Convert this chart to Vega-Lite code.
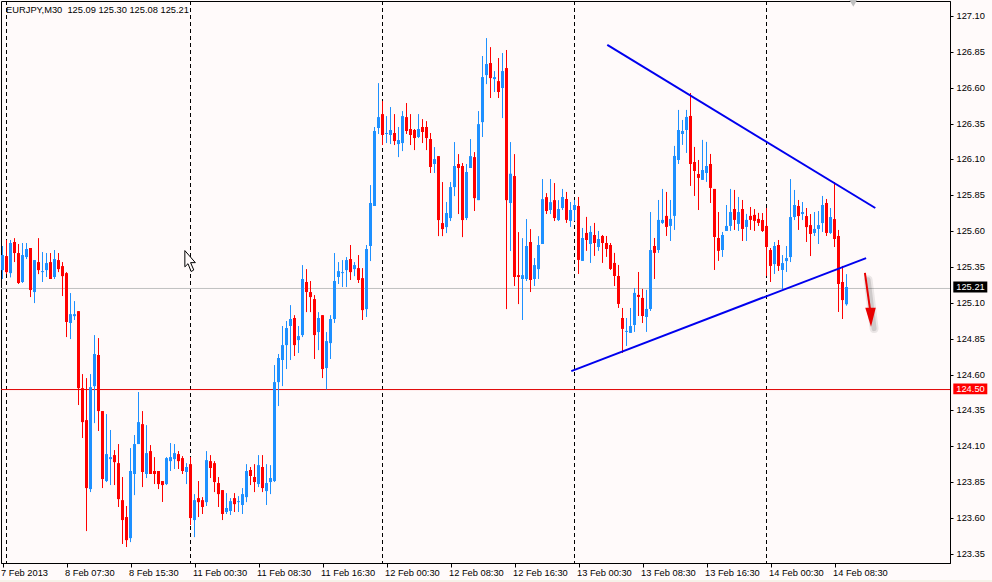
{"$schema":"https://vega.github.io/schema/vega-lite/v6.json","width":949,"height":562,"autosize":"none","padding":{"left":1,"top":1,"right":42,"bottom":19},"background":"#fffafa","view":{"stroke":"#000000","strokeWidth":1,"fill":"#fffafa"},
"config":{"text":{"font":"Liberation Sans"},"axis":{"labelFont":"Liberation Sans","labelFontSize":9.3,"labelColor":"#000000","tickColor":"#000000","domainColor":"#000000","grid":false,"title":null,"labelOverlap":false,"labelBound":false}},
"datasets":{
"candles":[
{"i":0,"o":125.328,"h":125.496,"l":125.266,"c":125.433},{"i":1,"o":125.426,"h":125.538,"l":125.3,"c":125.314},{"i":2,"o":125.307,"h":125.538,"l":125.277,"c":125.517},{"i":3,"o":125.524,"h":125.551,"l":125.384,"c":125.447},{"i":4,"o":125.447,"h":125.51,"l":125.231,"c":125.238},{"i":5,"o":125.245,"h":125.517,"l":125.238,"c":125.433},{"i":6,"o":125.419,"h":125.517,"l":125.405,"c":125.475},{"i":7,"o":125.482,"h":125.482,"l":125.14,"c":125.189},{"i":8,"o":125.175,"h":125.398,"l":125.098,"c":125.398},{"i":9,"o":125.384,"h":125.551,"l":125.3,"c":125.328},
{"i":10,"o":125.314,"h":125.454,"l":125.245,"c":125.321},{"i":11,"o":125.328,"h":125.447,"l":125.28,"c":125.377},{"i":12,"o":125.384,"h":125.447,"l":125.266,"c":125.266},{"i":13,"o":125.28,"h":125.468,"l":125.266,"c":125.405},{"i":14,"o":125.398,"h":125.447,"l":125.314,"c":125.335},{"i":15,"o":125.356,"h":125.384,"l":125.147,"c":125.286},{"i":16,"o":125.307,"h":125.314,"l":124.861,"c":124.966},{"i":17,"o":124.959,"h":125.168,"l":124.847,"c":125.021},{"i":18,"o":125.007,"h":125.112,"l":124.98,"c":125.021},{"i":19,"o":125.042,"h":125.042,"l":124.387,"c":124.505},
{"i":20,"o":124.505,"h":124.603,"l":124.157,"c":124.268},{"i":21,"o":124.282,"h":124.575,"l":123.508,"c":123.808},{"i":22,"o":123.801,"h":124.603,"l":123.78,"c":124.512},{"i":23,"o":124.519,"h":124.875,"l":124.261,"c":124.743},{"i":24,"o":124.736,"h":124.854,"l":124.206,"c":124.345},{"i":25,"o":124.345,"h":124.345,"l":123.808,"c":123.871},{"i":26,"o":123.857,"h":124.324,"l":123.85,"c":124.045},{"i":27,"o":124.01,"h":124.213,"l":123.829,"c":124.024},{"i":28,"o":124.038,"h":124.073,"l":123.829,"c":123.989},{"i":29,"o":123.982,"h":124.115,"l":123.676,"c":123.731},
{"i":30,"o":123.724,"h":123.885,"l":123.418,"c":123.585},{"i":31,"o":123.606,"h":123.683,"l":123.397,"c":123.445},{"i":32,"o":123.459,"h":124.087,"l":123.431,"c":123.927},{"i":33,"o":123.906,"h":124.178,"l":123.759,"c":124.115},{"i":34,"o":124.115,"h":124.478,"l":124.115,"c":124.268},{"i":35,"o":124.254,"h":124.345,"l":123.815,"c":123.92},{"i":36,"o":123.906,"h":124.247,"l":123.878,"c":124.052},{"i":37,"o":124.066,"h":124.108,"l":123.906,"c":123.906},{"i":38,"o":123.927,"h":124.024,"l":123.836,"c":123.906},{"i":39,"o":123.927,"h":123.927,"l":123.801,"c":123.836},
{"i":40,"o":123.857,"h":123.857,"l":123.711,"c":123.829},{"i":41,"o":123.836,"h":124.024,"l":123.829,"c":124.017},{"i":42,"o":123.996,"h":124.122,"l":123.927,"c":124.024},{"i":43,"o":124.01,"h":124.115,"l":123.941,"c":124.052},{"i":44,"o":124.045,"h":124.066,"l":123.941,"c":123.996},{"i":45,"o":124.017,"h":124.031,"l":123.906,"c":123.927},{"i":46,"o":123.92,"h":123.982,"l":123.836,"c":123.955},{"i":47,"o":123.975,"h":124.024,"l":123.55,"c":123.599},{"i":48,"o":123.585,"h":123.766,"l":123.466,"c":123.724},{"i":49,"o":123.738,"h":123.857,"l":123.606,"c":123.71},
{"i":50,"o":123.724,"h":123.745,"l":123.627,"c":123.676},{"i":51,"o":123.71,"h":124.066,"l":123.683,"c":124.003},{"i":52,"o":123.996,"h":124.038,"l":123.878,"c":123.948},{"i":53,"o":123.982,"h":123.996,"l":123.78,"c":123.85},{"i":54,"o":123.843,"h":123.885,"l":123.676,"c":123.766},{"i":55,"o":123.794,"h":123.794,"l":123.585,"c":123.627},{"i":56,"o":123.641,"h":123.773,"l":123.627,"c":123.669},{"i":57,"o":123.648,"h":123.738,"l":123.62,"c":123.717},{"i":58,"o":123.738,"h":123.773,"l":123.641,"c":123.696},{"i":59,"o":123.71,"h":123.752,"l":123.641,"c":123.717},
{"i":60,"o":123.69,"h":123.808,"l":123.627,"c":123.766},{"i":61,"o":123.745,"h":123.975,"l":123.71,"c":123.927},{"i":62,"o":123.934,"h":123.955,"l":123.829,"c":123.892},{"i":63,"o":123.885,"h":123.975,"l":123.78,"c":123.85},{"i":64,"o":123.836,"h":124.038,"l":123.815,"c":123.968},{"i":65,"o":123.955,"h":124.038,"l":123.78,"c":123.808},{"i":66,"o":123.787,"h":123.975,"l":123.69,"c":123.843},{"i":67,"o":123.85,"h":123.968,"l":123.766,"c":123.878},{"i":68,"o":123.857,"h":124.666,"l":123.85,"c":124.547},{"i":69,"o":124.547,"h":124.743,"l":124.38,"c":124.715},
{"i":70,"o":124.701,"h":124.938,"l":124.519,"c":124.805},{"i":71,"o":124.805,"h":124.973,"l":124.638,"c":124.924},{"i":72,"o":124.938,"h":125.084,"l":124.701,"c":124.987},{"i":73,"o":124.994,"h":125.014,"l":124.729,"c":124.805},{"i":74,"o":124.84,"h":124.938,"l":124.75,"c":124.868},{"i":75,"o":124.875,"h":125.363,"l":124.861,"c":125.266},{"i":76,"o":125.245,"h":125.335,"l":125.035,"c":125.175},{"i":77,"o":125.175,"h":125.252,"l":125.035,"c":125.14},{"i":78,"o":125.126,"h":125.154,"l":124.708,"c":124.875},{"i":79,"o":124.896,"h":125.035,"l":124.77,"c":124.994},
{"i":80,"o":125.014,"h":125.014,"l":124.575,"c":124.638},{"i":81,"o":124.645,"h":124.896,"l":124.496,"c":124.833},{"i":82,"o":124.819,"h":125.014,"l":124.708,"c":124.987},{"i":83,"o":124.987,"h":125.447,"l":124.959,"c":125.252},{"i":84,"o":125.28,"h":125.384,"l":125.231,"c":125.321},{"i":85,"o":125.307,"h":125.398,"l":125.21,"c":125.314},{"i":86,"o":125.328,"h":125.419,"l":125.21,"c":125.398},{"i":87,"o":125.405,"h":125.503,"l":125.259,"c":125.314},{"i":88,"o":125.335,"h":125.384,"l":125.286,"c":125.363},{"i":89,"o":125.342,"h":125.433,"l":125.238,"c":125.259},
{"i":90,"o":125.272,"h":125.342,"l":124.98,"c":125.049},{"i":91,"o":125.056,"h":125.503,"l":125.001,"c":125.475},{"i":92,"o":125.496,"h":125.921,"l":125.391,"c":125.796},{"i":93,"o":125.775,"h":126.326,"l":125.775,"c":126.298},{"i":94,"o":126.319,"h":126.632,"l":126.277,"c":126.395},{"i":95,"o":126.416,"h":126.507,"l":126.2,"c":126.27},{"i":96,"o":126.277,"h":126.402,"l":126.214,"c":126.284},{"i":97,"o":126.27,"h":126.465,"l":126.207,"c":126.305},{"i":98,"o":126.284,"h":126.416,"l":126.2,"c":126.228},{"i":99,"o":126.207,"h":126.326,"l":126.116,"c":126.235},
{"i":100,"o":126.214,"h":126.437,"l":126.158,"c":126.402},{"i":101,"o":126.395,"h":126.493,"l":126.277,"c":126.298},{"i":102,"o":126.312,"h":126.416,"l":126.2,"c":126.27},{"i":103,"o":126.305,"h":126.312,"l":126.165,"c":126.249},{"i":104,"o":126.256,"h":126.416,"l":126.249,"c":126.312},{"i":105,"o":126.326,"h":126.381,"l":126.214,"c":126.291},{"i":106,"o":126.326,"h":126.367,"l":126.165,"c":126.249},{"i":107,"o":126.242,"h":126.284,"l":126.005,"c":126.047},{"i":108,"o":126.068,"h":126.186,"l":126.005,"c":126.102},{"i":109,"o":126.123,"h":126.123,"l":125.565,"c":125.677},
{"i":110,"o":125.656,"h":125.942,"l":125.565,"c":125.614},{"i":111,"o":125.628,"h":125.803,"l":125.586,"c":125.726},{"i":112,"o":125.691,"h":125.942,"l":125.67,"c":125.907},{"i":113,"o":125.907,"h":126.221,"l":125.844,"c":126.054},{"i":114,"o":126.068,"h":126.137,"l":125.719,"c":126.04},{"i":115,"o":126.054,"h":126.075,"l":125.558,"c":125.677},{"i":116,"o":125.691,"h":126.068,"l":125.677,"c":126.012},{"i":117,"o":126.04,"h":126.242,"l":126.04,"c":126.123},{"i":118,"o":126.116,"h":126.151,"l":125.74,"c":125.83},{"i":119,"o":125.816,"h":126.437,"l":125.816,"c":126.346},
{"i":120,"o":126.36,"h":126.821,"l":126.256,"c":126.674},{"i":121,"o":126.688,"h":126.946,"l":126.625,"c":126.765},{"i":122,"o":126.772,"h":126.883,"l":126.528,"c":126.667},{"i":123,"o":126.66,"h":126.716,"l":126.57,"c":126.674},{"i":124,"o":126.646,"h":126.807,"l":126.528,"c":126.57},{"i":125,"o":126.598,"h":126.842,"l":126.388,"c":126.716},{"i":126,"o":126.737,"h":126.863,"l":125.056,"c":125.816},{"i":127,"o":125.796,"h":126.221,"l":125.461,"c":126.0},{"i":128,"o":125.984,"h":126.137,"l":125.217,"c":125.28},{"i":129,"o":125.293,"h":125.593,"l":125.091,"c":125.28},
{"i":130,"o":125.266,"h":125.551,"l":124.98,"c":125.293},{"i":131,"o":125.266,"h":125.684,"l":125.252,"c":125.496},{"i":132,"o":125.524,"h":125.614,"l":125.175,"c":125.259},{"i":133,"o":125.266,"h":125.412,"l":125.217,"c":125.363},{"i":134,"o":125.335,"h":125.565,"l":125.266,"c":125.503},{"i":135,"o":125.51,"h":125.963,"l":125.51,"c":125.823},{"i":136,"o":125.837,"h":125.865,"l":125.719,"c":125.74},{"i":137,"o":125.747,"h":125.963,"l":125.719,"c":125.802},{"i":138,"o":125.816,"h":125.935,"l":125.67,"c":125.691},{"i":139,"o":125.677,"h":125.816,"l":125.67,"c":125.754},
{"i":140,"o":125.761,"h":125.894,"l":125.747,"c":125.838},{"i":141,"o":125.824,"h":125.873,"l":125.657,"c":125.678},{"i":142,"o":125.671,"h":125.803,"l":125.629,"c":125.747},{"i":143,"o":125.747,"h":125.817,"l":125.671,"c":125.782},{"i":144,"o":125.775,"h":125.838,"l":125.301,"c":125.399},{"i":145,"o":125.392,"h":125.622,"l":125.392,"c":125.552},{"i":146,"o":125.587,"h":125.699,"l":125.462,"c":125.538},{"i":147,"o":125.51,"h":125.636,"l":125.378,"c":125.594},{"i":148,"o":125.573,"h":125.657,"l":125.427,"c":125.517},{"i":149,"o":125.489,"h":125.601,"l":125.462,"c":125.545},
{"i":150,"o":125.566,"h":125.573,"l":125.378,"c":125.517},{"i":151,"o":125.517,"h":125.566,"l":125.42,"c":125.475},{"i":152,"o":125.503,"h":125.517,"l":125.329,"c":125.336},{"i":153,"o":125.378,"h":125.448,"l":125.217,"c":125.287},{"i":154,"o":125.287,"h":125.364,"l":125.064,"c":125.092},{"i":155,"o":124.994,"h":125.064,"l":124.75,"c":124.918},{"i":156,"o":124.897,"h":124.994,"l":124.799,"c":124.904},{"i":157,"o":124.89,"h":125.064,"l":124.89,"c":124.938},{"i":158,"o":124.945,"h":125.203,"l":124.897,"c":125.169},{"i":159,"o":125.155,"h":125.315,"l":125.008,"c":125.141},
{"i":160,"o":125.134,"h":125.197,"l":124.959,"c":125.008},{"i":161,"o":125.001,"h":125.19,"l":124.897,"c":125.057},{"i":162,"o":125.057,"h":125.733,"l":125.043,"c":125.468},{"i":163,"o":125.496,"h":125.552,"l":125.266,"c":125.448},{"i":164,"o":125.468,"h":125.817,"l":125.448,"c":125.678},{"i":165,"o":125.657,"h":125.894,"l":125.65,"c":125.678},{"i":166,"o":125.706,"h":125.873,"l":125.566,"c":125.629},{"i":167,"o":125.636,"h":125.817,"l":125.531,"c":125.685},{"i":168,"o":125.706,"h":126.194,"l":125.608,"c":126.124},{"i":169,"o":126.096,"h":126.445,"l":126.068,"c":126.305},
{"i":170,"o":126.277,"h":126.375,"l":126.201,"c":126.298},{"i":171,"o":126.305,"h":126.445,"l":126.145,"c":126.396},{"i":172,"o":126.403,"h":126.563,"l":125.915,"c":126.068},{"i":173,"o":126.082,"h":126.187,"l":125.845,"c":126.019},{"i":174,"o":125.998,"h":126.096,"l":125.747,"c":125.971},{"i":175,"o":125.957,"h":126.236,"l":125.957,"c":126.026},{"i":176,"o":126.005,"h":126.222,"l":125.943,"c":126.054},{"i":177,"o":126.068,"h":126.138,"l":125.796,"c":125.901},{"i":178,"o":125.894,"h":125.894,"l":125.329,"c":125.559},{"i":179,"o":125.552,"h":125.733,"l":125.392,"c":125.462},
{"i":180,"o":125.468,"h":125.594,"l":125.42,"c":125.573},{"i":181,"o":125.601,"h":125.782,"l":125.601,"c":125.636},{"i":182,"o":125.636,"h":125.894,"l":125.601,"c":125.733},{"i":183,"o":125.754,"h":125.887,"l":125.608,"c":125.678},{"i":184,"o":125.65,"h":125.838,"l":125.601,"c":125.733},{"i":185,"o":125.754,"h":125.817,"l":125.531,"c":125.615},{"i":186,"o":125.629,"h":125.72,"l":125.531,"c":125.678},{"i":187,"o":125.706,"h":125.768,"l":125.608,"c":125.678},{"i":188,"o":125.713,"h":125.754,"l":125.601,"c":125.671},{"i":189,"o":125.685,"h":125.727,"l":125.636,"c":125.657},
{"i":190,"o":125.677,"h":125.726,"l":125.594,"c":125.601},{"i":191,"o":125.636,"h":125.761,"l":125.287,"c":125.489},{"i":192,"o":125.468,"h":125.482,"l":125.245,"c":125.357},{"i":193,"o":125.37,"h":125.524,"l":125.301,"c":125.496},{"i":194,"o":125.503,"h":125.538,"l":125.322,"c":125.357},{"i":195,"o":125.329,"h":125.433,"l":125.196,"c":125.377},{"i":196,"o":125.391,"h":125.496,"l":125.315,"c":125.412},{"i":197,"o":125.419,"h":125.963,"l":125.384,"c":125.698},{"i":198,"o":125.698,"h":125.887,"l":125.677,"c":125.782},{"i":199,"o":125.775,"h":125.817,"l":125.608,"c":125.705},
{"i":200,"o":125.719,"h":125.803,"l":125.677,"c":125.733},{"i":201,"o":125.705,"h":125.761,"l":125.524,"c":125.628},{"i":202,"o":125.642,"h":125.719,"l":125.426,"c":125.58},{"i":203,"o":125.587,"h":125.733,"l":125.566,"c":125.615},{"i":204,"o":125.615,"h":125.74,"l":125.51,"c":125.642},{"i":205,"o":125.656,"h":125.845,"l":125.594,"c":125.782},{"i":206,"o":125.796,"h":125.824,"l":125.566,"c":125.587},{"i":207,"o":125.587,"h":125.761,"l":125.58,"c":125.698},{"i":208,"o":125.684,"h":125.942,"l":125.489,"c":125.545},{"i":209,"o":125.566,"h":125.608,"l":125.036,"c":125.231},
{"i":210,"o":125.245,"h":125.357,"l":124.987,"c":125.119},{"i":211,"o":125.09,"h":125.3,"l":125.08,"c":125.21}],
"seps":[{"i":1},{"i":47},{"i":95},{"i":143},{"i":191}],
"levels":[{"p":125.2,"col":"#c0c0c0"},{"p":124.495,"col":"#e00000"}],
"tags":[{"a":237.7,"b":246.2,"t":125.248,"u":125.172,"p":125.21,"lab":"125.21","col":"#000000"},{"a":237.7,"b":246.2,"t":124.538,"u":124.462,"p":124.5,"lab":"124.50","col":"#ff0000"}],
"strip":[{"a":-1,"b":247.4,"t":123.167,"u":123.14}],
"ylabels":[{"p":123.35,"lab":"123.35"},{"p":123.6,"lab":"123.60"},{"p":123.85,"lab":"123.85"},{"p":124.1,"lab":"124.10"},{"p":124.35,"lab":"124.35"},{"p":124.6,"lab":"124.60"},{"p":124.85,"lab":"124.85"},{"p":125.1,"lab":"125.10"},{"p":125.35,"lab":"125.35"},{"p":125.6,"lab":"125.60"},{"p":125.85,"lab":"125.85"},{"p":126.1,"lab":"126.10"},{"p":126.35,"lab":"126.35"},{"p":126.6,"lab":"126.60"},{"p":126.85,"lab":"126.85"},{"p":127.1,"lab":"127.10"}],
"trends":[{"s":"upper","i":151.2,"p":126.898},{"s":"upper","i":218.2,"p":125.761},{"s":"lower","i":142.2,"p":124.624},{"s":"lower","i":215.9,"p":125.412}],
"arrow":[{"i":215.6,"p":125.308},{"i":216.9,"p":125.05}],
"shadow":[{"i":216.4,"p":125.26},{"i":217.9,"p":124.92}],
"head":[{"i":217,"p":125.0}],
"cursor":[{"i":46.9,"p":125.391}],
"marker":[{"i":212.7,"p":127.19}],
"title":[{"i":0.9,"p":127.145,"lab":"EURJPY,M30\u00a0\u00a0125.09 125.30 125.08 125.21"}]
},
"layer":[
{"data":{"name":"strip"},"mark":{"type":"rect","color":"#f5f2e9"},"encoding":{"x":{"field":"a","type":"quantitative","scale":{"domain":[-0.375,236.875],"nice":false,"zero":false,"padding":0},"axis":{"orient":"bottom","values":[0,16,32,48,64,80,96,112,128,144,160,176,192,208],"labelExpr":"['7 Feb 2013','8 Feb 07:30','8 Feb 15:30','11 Feb 00:30','11 Feb 08:30','11 Feb 16:30','12 Feb 00:30','12 Feb 08:30','12 Feb 16:30','13 Feb 00:30','13 Feb 08:30','13 Feb 16:30','14 Feb 00:30','14 Feb 08:30'][datum.value/16]","labelAlign":"left","labelBaseline":"top","labelPadding":1,"labelOffset":-2,"labelOverlap":false,"labelFlush":false,"tickSize":4,"domain":true}},"x2":{"field":"b"},"y":{"field":"t","type":"quantitative","scale":{"domain":[123.2855,127.2046],"nice":false,"zero":false,"padding":0},"axis":{"orient":"right","values":[123.35,123.6,123.85,124.1,124.35,124.6,124.85,125.1,125.35,125.6,125.85,126.1,126.35,126.6,126.85,127.1],"tickCount":16,"labels":false,"tickSize":3,"domain":true}},"y2":{"field":"u"}}},
{"data":{"name":"seps"},"mark":{"type":"rule","color":"#000000","strokeWidth":1,"strokeDash":[4,3]},"encoding":{"x":{"field":"i","type":"quantitative"}}},
{"data":{"name":"levels"},"mark":{"type":"rule","strokeWidth":1},"encoding":{"y":{"field":"p","type":"quantitative"},"color":{"field":"col","type":"nominal","scale":null}}},
{"data":{"name":"candles"},"mark":{"type":"rule","strokeWidth":1},"encoding":{"x":{"field":"i","type":"quantitative"},"y":{"field":"l","type":"quantitative"},"y2":{"field":"h"},"color":{"condition":{"test":"datum.c>datum.o","value":"#1e90ff"},"value":"#ff0000"}}},
{"data":{"name":"candles"},"mark":{"type":"bar","size":3},"encoding":{"x":{"field":"i","type":"quantitative"},"y":{"field":"o","type":"quantitative"},"y2":{"field":"c"},"color":{"condition":{"test":"datum.c>datum.o","value":"#1e90ff"},"value":"#ff0000"}}},
{"data":{"name":"trends"},"mark":{"type":"line","color":"#0000ee","strokeWidth":2},"encoding":{"x":{"field":"i","type":"quantitative"},"y":{"field":"p","type":"quantitative"},"detail":{"field":"s"}}},
{"data":{"name":"shadow"},"mark":{"type":"line","color":"#000000","strokeWidth":9,"opacity":0.08,"strokeCap":"round"},"encoding":{"x":{"field":"i","type":"quantitative"},"y":{"field":"p","type":"quantitative"}}},
{"data":{"name":"shadow"},"mark":{"type":"line","color":"#000000","strokeWidth":5,"opacity":0.12,"strokeCap":"round"},"encoding":{"x":{"field":"i","type":"quantitative"},"y":{"field":"p","type":"quantitative"}}},
{"data":{"name":"arrow"},"mark":{"type":"line","color":"#e80000","strokeWidth":2},"encoding":{"x":{"field":"i","type":"quantitative"},"y":{"field":"p","type":"quantitative"}}},
{"data":{"name":"head"},"mark":{"type":"point","shape":"M-0.55,-1L0.55,-1L0.05,1Z","size":361,"filled":true,"color":"#e80000","opacity":1},"encoding":{"x":{"field":"i","type":"quantitative"},"y":{"field":"p","type":"quantitative"}}},
{"data":{"name":"cursor"},"mark":{"type":"point","shape":"M-0.5,-1L-0.5,0.55L-0.2,0.25L0.1,1L0.35,0.85L0.05,0.15L0.5,0.15Z","size":440,"filled":true,"fill":"#fffafa","stroke":"#000000","strokeWidth":1,"opacity":1},"encoding":{"x":{"field":"i","type":"quantitative"},"y":{"field":"p","type":"quantitative"}}},
{"data":{"name":"marker"},"mark":{"type":"point","shape":"triangle-down","size":70,"filled":true,"color":"#c0c0c0","opacity":1},"encoding":{"x":{"field":"i","type":"quantitative"},"y":{"field":"p","type":"quantitative"}}},
{"data":{"name":"title"},"mark":{"type":"text","align":"left","baseline":"middle","fontSize":9.3,"font":"Liberation Sans","color":"#000000"},"encoding":{"x":{"field":"i","type":"quantitative"},"y":{"field":"p","type":"quantitative"},"text":{"field":"lab"}}},
{"data":{"name":"ylabels"},"mark":{"type":"text","align":"left","baseline":"middle","fontSize":9.3,"font":"Liberation Sans","color":"#000000"},"encoding":{"x":{"datum":238.5,"type":"quantitative"},"y":{"field":"p","type":"quantitative"},"text":{"field":"lab"}}},
{"data":{"name":"tags"},"mark":{"type":"rect"},"encoding":{"x":{"field":"a","type":"quantitative"},"x2":{"field":"b"},"y":{"field":"t","type":"quantitative"},"y2":{"field":"u"},"color":{"field":"col","type":"nominal","scale":null}}},
{"data":{"name":"tags"},"mark":{"type":"text","align":"center","baseline":"middle","fontSize":9.3,"font":"Liberation Sans","color":"#ffffff"},"encoding":{"x":{"datum":242,"type":"quantitative"},"y":{"field":"p","type":"quantitative"},"text":{"field":"lab"}}}
]}
